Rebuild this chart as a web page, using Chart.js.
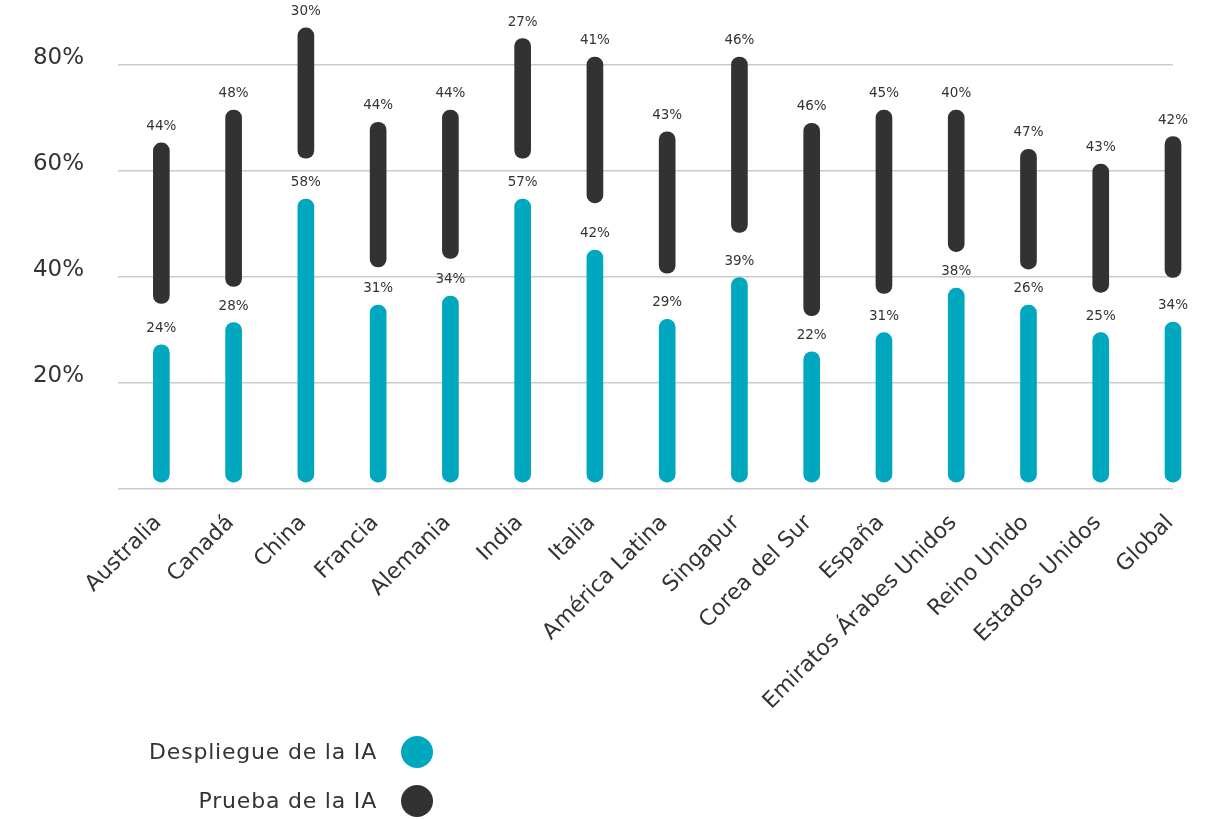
<!DOCTYPE html>
<html>
<head>
<meta charset="utf-8">
<script src="https://cdn.jsdelivr.net/npm/chart.js@4.4.0/dist/chart.umd.min.js"></script>
<style>
  body { margin: 0; background: #fff; font-family: 'DejaVu Sans', sans-serif; color: #333; }
  #wrap { position: relative; width: 1208px; height: 819px; }
  .lg-text { position: absolute; left: 0; width: 377px; text-align: right; font-size: 22px; line-height: 28px; letter-spacing: 0.8px; color: #333; }
  .lg-dot { position: absolute; left: 401px; width: 32px; height: 32px; border-radius: 50%; }
</style>
</head>
<body>
<div id="wrap">
  <canvas id="chart"></canvas>
  <div class="lg-text" style="top:738px">Despliegue de la IA</div>
  <div class="lg-dot" style="top:736px;background:#00a8bf"></div>
  <div class="lg-text" style="top:787px">Prueba de la IA</div>
  <div class="lg-dot" style="top:785px;background:#323232"></div>
</div>
<script>
const categories = ['Australia', 'Canadá', 'China', 'Francia', 'Alemania', 'India', 'Italia', 'América Latina',
    'Singapur', 'Corea del Sur', 'España', 'Emiratos Árabes Unidos', 'Reino Unido', 'Estados Unidos', 'Global'];

// printed labels
const despliegueText = [24, 28, 58, 31, 34, 57, 42, 29, 39, 22, 31, 38, 26, 25, 34];
const pruebaText = [44, 48, 30, 44, 44, 27, 41, 43, 46, 46, 45, 40, 47, 43, 42];

// bar extents as drawn (in %)
const despliegueLow = [1.3, 1.3, 1.3, 1.3, 1.3, 1.3, 1.3, 1.3, 1.3, 1.3, 1.3, 1.3, 1.3, 1.3, 1.3];
const despliegueHigh = [27.2, 31.4, 54.7, 34.7, 36.4, 54.7, 45.1, 32.0, 39.9, 25.9, 29.5, 37.9, 34.7, 29.5, 31.5];
const pruebaLow = [35.0, 38.2, 62.4, 41.9, 43.5, 62.4, 54.0, 40.7, 48.4, 32.7, 36.9, 44.8, 41.5, 37.1, 39.9];
const pruebaHigh = [65.3, 71.5, 87.0, 69.2, 71.5, 85.0, 81.5, 67.4, 81.5, 69.0, 71.5, 71.5, 64.1, 61.3, 66.5];

const yTicks = [0, 20, 40, 60, 80];

const TEAL = '#00a8bf';
const DARK = '#323232';

function toPoints(low, high) {
    return categories.map((c, i) => ({ x: i, y: [low[i], high[i]] }));
}

const valueLabels = {
    id: 'valueLabels',
    afterDatasetsDraw(chart) {
        const ctx = chart.ctx;
        ctx.save();
        ctx.font = '13.5px "DejaVu Sans"';
        ctx.fillStyle = '#333';
        ctx.textAlign = 'center';
        ctx.textBaseline = 'alphabetic';
        chart.data.datasets.forEach((ds, di) => {
            chart.getDatasetMeta(di).data.forEach((bar, i) => {
                const top = Math.min(bar.y, bar.base);
                ctx.fillText(ds.valueText[i] + '%', bar.x, top - 13);
            });
        });
        ctx.restore();
    }
};

new Chart(document.getElementById('chart'), {
    type: 'bar',
    data: {
        datasets: [
            {
                label: 'Despliegue de la IA',
                data: toPoints(despliegueLow, despliegueHigh),
                valueText: despliegueText,
                backgroundColor: TEAL,
                grouped: false,
                barThickness: 16,
                borderRadius: 8,
                borderSkipped: false,
                clip: false
            },
            {
                label: 'Prueba de la IA',
                data: toPoints(pruebaLow, pruebaHigh),
                valueText: pruebaText,
                backgroundColor: DARK,
                grouped: false,
                barThickness: 16,
                borderRadius: 8,
                borderSkipped: false,
                clip: false
            }
        ]
    },
    options: {
        responsive: true,
        maintainAspectRatio: false,
        animation: false,
        layout: { padding: { top: 12, right: 35, left: 0, bottom: 0 } },
        plugins: { legend: { display: false }, tooltip: { enabled: false } },
        scales: {
            x: {
                type: 'linear',
                offset: false,
                min: -0.6,
                max: 14,
                grid: { display: false },
                border: { display: false },
                afterBuildTicks: s => { s.ticks = categories.map((c, i) => ({ value: i })); },
                afterFit: s => { s.height = 330; s.paddingLeft = 0; s.paddingRight = 0; },
                ticks: {
                    autoSkip: false,
                    minRotation: 45,
                    maxRotation: 45,
                    padding: 13,
                    labelOffset: -3,
                    color: '#333',
                    font: { family: 'DejaVu Sans', size: 22 },
                    callback: v => categories[v] ?? ''
                }
            },
            y: {
                min: 0,
                max: 90,
                border: { display: false },
                grid: { color: '#cbcbcb', lineWidth: 1.5, drawTicks: false },
                afterBuildTicks: s => { s.ticks = yTicks.map(v => ({ value: v })); },
                afterFit: s => { s.width = 118; s.paddingTop = 0; s.paddingBottom = 0; },
                ticks: {
                    padding: 34,
                    labelOffset: -7,
                    color: '#333',
                    font: { family: 'DejaVu Sans', size: 23 },
                    callback: v => v === 0 ? '' : v + '%'
                }
            }
        }
    },
    plugins: [valueLabels]
});
</script>
</body>
</html>
